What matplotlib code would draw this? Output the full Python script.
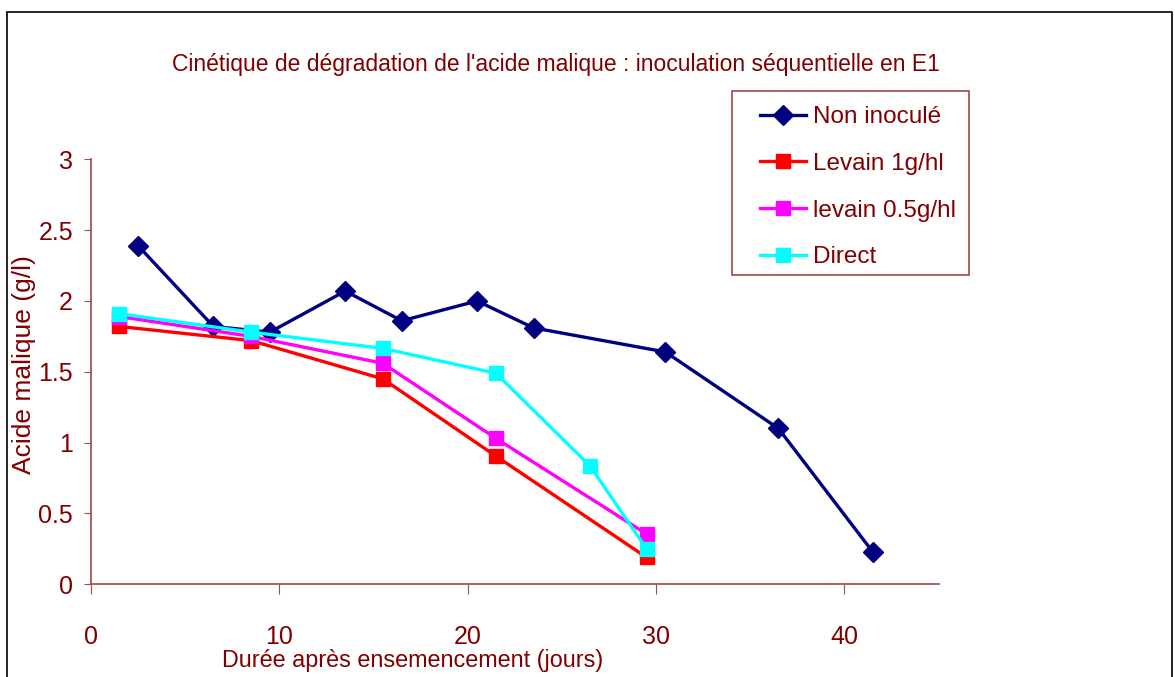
import matplotlib
matplotlib.use("Agg")
import matplotlib.pyplot as plt
from matplotlib.patches import Rectangle

plt.rcParams['font.family'] = ['Liberation Sans', 'DejaVu Sans']

# Données
jours_ni = [2.5, 6.5, 9.5, 13.5, 16.5, 20.5, 23.5, 30.5, 36.5, 41.5]
non_inocule = [2.39, 1.82, 1.78, 2.07, 1.86, 2.00, 1.81, 1.64, 1.10, 0.23]

jours_lev = [1.5, 8.5, 15.5, 21.5, 29.5]
levain_1 = [1.82, 1.72, 1.45, 0.905, 0.19]
levain_05 = [1.89, 1.75, 1.56, 1.03, 0.355]

jours_dir = [1.5, 8.5, 15.5, 21.5, 26.5, 29.5]
direct = [1.91, 1.78, 1.665, 1.49, 0.835, 0.25]

texte = '#800000'
axe = '#9b4a4a'

fig = plt.figure(figsize=(11.75, 6.77), dpi=100)
ax = fig.add_axes([91 / 1175, 1 - 584.3 / 677, (938.5 - 91) / 1175, (584.3 - 159.3) / 677])

# cadre noir autour du graphique
fig.patches.append(Rectangle((7 / 1175, -0.05), (1172 - 7) / 1175, 1.05 - 12 / 677,
                             transform=fig.transFigure, fill=False, edgecolor='black', linewidth=1.2))
# cadre de la légende
fig.patches.append(Rectangle((732 / 1175, 1 - 275 / 677), (969 - 732) / 1175, (275 - 91) / 677,
                             transform=fig.transFigure, fill=False, edgecolor=axe, linewidth=1.2))

ax.plot(jours_ni, non_inocule, color='#000080', marker='D', markersize=10, linewidth=2.4, label='Non inoculé')
ax.plot(jours_lev, levain_1, color='#ff0000', marker='s', markersize=9.5, linewidth=2.4, label='Levain 1g/hl')
ax.plot(jours_lev, levain_05, color='#ff00ff', marker='s', markersize=9.5, linewidth=2.4, label='levain 0.5g/hl')
ax.plot(jours_dir, direct, color='#00ffff', marker='s', markersize=9.5, linewidth=2.4, label='Direct')

ax.set_xlim(0, 45)
ax.set_ylim(0, 3)
ax.set_xticks([0, 10, 20, 30, 40])
ax.set_yticks([0, 0.5, 1, 1.5, 2, 2.5, 3])
ax.set_yticklabels(['0', '0.5', '1', '1.5', '2', '2.5', '3'])

for s in ['top', 'right']:
    ax.spines[s].set_visible(False)
for s in ['left', 'bottom']:
    ax.spines[s].set_color(axe)
    ax.spines[s].set_linewidth(1.2)
ax.tick_params(axis='x', direction='out', length=7, color=axe, labelcolor=texte, labelsize=18, pad=22)
ax.tick_params(axis='y', direction='out', length=5, color=axe, labelcolor=texte, labelsize=18, pad=8)

fig.text(413 / 1175, 1 - 660 / 677, 'Durée après ensemencement (jours)', color=texte, fontsize=16.8,
         ha='center', va='center')
fig.text(24 / 1175, 1 - 365 / 677, 'Acide malique (g/l)', color=texte, fontsize=19,
         ha='center', va='center', rotation=90)
fig.text(556 / 1175, 1 - 65 / 677, "Cinétique de dégradation de l'acide malique : inoculation séquentielle en E1",
         color=texte, fontsize=16.5, ha='center', va='center')

leg = fig.legend(loc='upper left', bbox_to_anchor=(760 / 1175, 1 - 106 / 677), fontsize=17.5,
                 frameon=False, handlelength=1.9, handletextpad=0.3,
                 labelspacing=1.02, borderpad=0.0, borderaxespad=0)
for t in leg.get_texts():
    t.set_color(texte)

fig.savefig('out.png', dpi=100)
